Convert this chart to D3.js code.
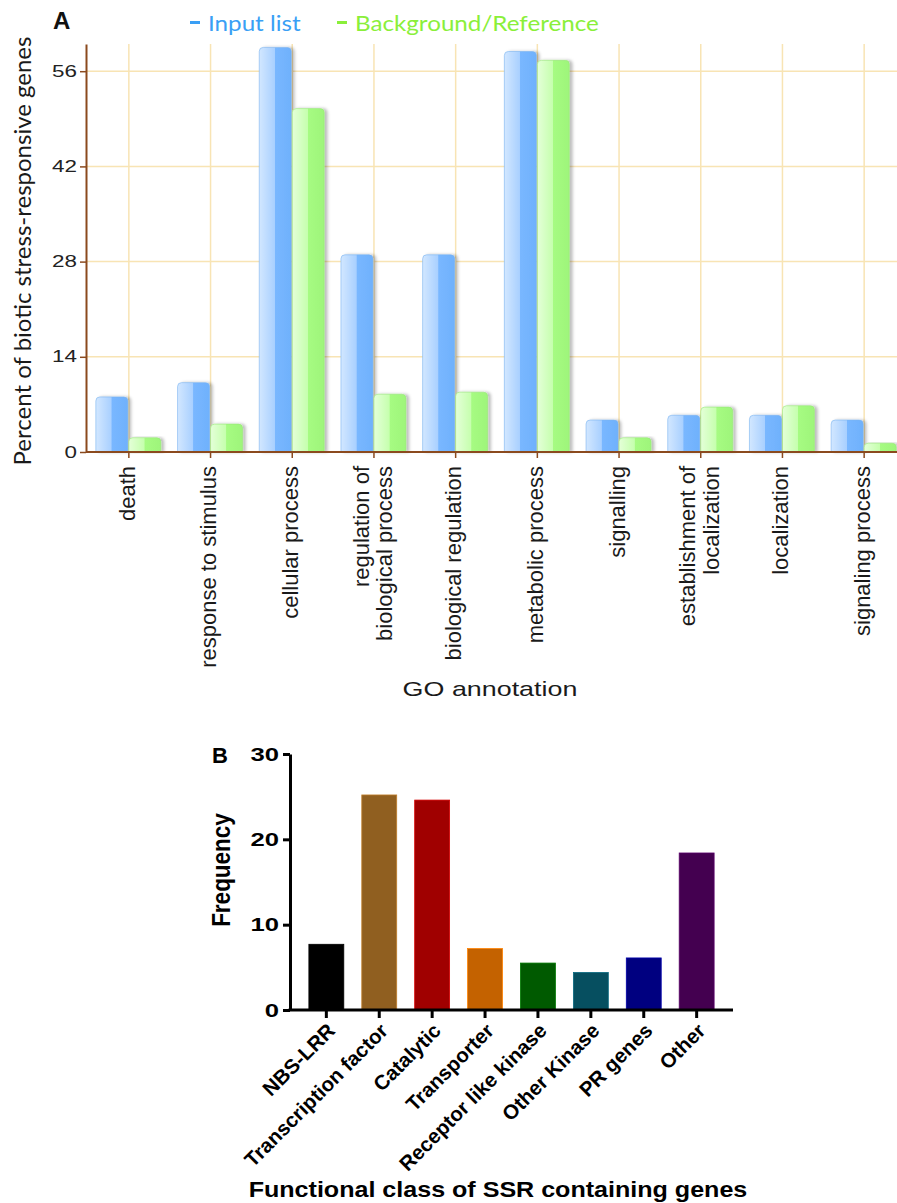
<!DOCTYPE html>
<html>
<head>
<meta charset="utf-8">
<script src="https://cdn.jsdelivr.net/npm/d3@7"></script>
<style>
  body { margin: 0; background: #fff; }
  svg { display: block; }
</style>
</head>
<body>
<svg id="fig" width="897" height="1203"></svg>
<script>
// ---- panel A: GO annotation ----
const goTerms = [
  'death', 'response to stimulus', 'cellular process',
  'regulation of\nbiological process', 'biological regulation',
  'metabolic process', 'signalling', 'establishment of\nlocalization',
  'localization', 'signaling process'
];
const inputList = [8.1, 10.2, 59.5, 29.0, 29.0, 58.9, 4.7, 5.4, 5.4, 4.7];
const backgroundRef = [2.1, 4.1, 50.5, 8.5, 8.8, 57.6, 2.1, 6.6, 6.8, 1.3];
const seriesNames = ['Input list', 'Background/Reference'];
const percentTicks = [0, 14, 28, 42, 56];

// ---- panel B: SSR functional classes ----
const ssrClasses = [
  'NBS-LRR', 'Transcription factor', 'Catalytic', 'Transporter',
  'Receptor like kinase', 'Other Kinase', 'PR genes', 'Other'
];
const ssrFrequency = [7.7, 25.2, 24.6, 7.2, 5.5, 4.4, 6.1, 18.4];
const frequencyTicks = [0, 10, 20, 30];

const svg = d3.select('#fig');
const defs = svg.append('defs');

function topRounded(x, y, w, h, r) {
  r = Math.min(r, h, w / 2);
  return `M${x},${y + h}V${y + r}Q${x},${y} ${x + r},${y}H${x + w - r}Q${x + w},${y} ${x + w},${y + r}V${y + h}Z`;
}

// bar gradients (glossy look of the original)
const grads = {
  'Input list': ['#d2e7ff', '#a9d0ff', '#79b7ff', '#6fb1fc'],
  'Background/Reference': ['#e4ffd8', '#c6ffae', '#a6fb82', '#9ef57a']
};
Object.entries(grads).forEach(([name, c], i) => {
  const g = defs.append('linearGradient').attr('id', 'grad' + i)
    .attr('x1', 0).attr('x2', 1).attr('y1', 0).attr('y2', 0);
  g.append('stop').attr('offset', '0%').attr('stop-color', c[0]);
  g.append('stop').attr('offset', '48%').attr('stop-color', c[1]);
  g.append('stop').attr('offset', '50%').attr('stop-color', c[2]);
  g.append('stop').attr('offset', '100%').attr('stop-color', c[3]);
});
defs.append('filter').attr('id', 'shadow')
  .attr('x', '-20%').attr('y', '-10%').attr('width', '150%').attr('height', '120%')
  .append('feDropShadow')
  .attr('dx', 3).attr('dy', 0).attr('stdDeviation', 1.8)
  .attr('flood-color', '#000').attr('flood-opacity', 0.25);

// ================= Panel A =================
const axisBrown = '#8b4a1e';
const gridColor = '#f8e4b4';

const xA = d3.scaleBand().domain(goTerms).range([88, 905]);
const xSub = d3.scaleBand().domain(seriesNames).range([-33, 33]);
const yA = d3.scaleLinear().domain([0, 60]).range([452, 44]);
const center = t => xA(t) + xA.bandwidth() / 2;

const gA = svg.append('g');

// grid
gA.append('g').selectAll('line').data(percentTicks.filter(d => d > 0)).join('line')
  .attr('x1', 86).attr('x2', 897)
  .attr('y1', d => yA(d)).attr('y2', d => yA(d))
  .attr('stroke', gridColor).attr('stroke-width', 1.5);
gA.append('g').selectAll('line').data(goTerms).join('line')
  .attr('x1', d => center(d)).attr('x2', d => center(d))
  .attr('y1', yA(60)).attr('y2', yA(0))
  .attr('stroke', gridColor).attr('stroke-width', 1.5);

// bars
const barData = goTerms.flatMap((t, i) => [
  {term: t, series: seriesNames[0], value: inputList[i]},
  {term: t, series: seriesNames[1], value: backgroundRef[i]}
]);
gA.append('g').selectAll('path').data(barData).join('path')
  .attr('d', d => {
    const x = center(d.term) + xSub(d.series);
    const y = yA(d.value);
    return topRounded(x, y, xSub.bandwidth() - 1, yA(0) - y, 4);
  })
  .attr('fill', d => `url(#grad${seriesNames.indexOf(d.series)})`)
  .attr('stroke', d => d.series === seriesNames[0] ? '#7ab3f0' : '#98e87a')
  .attr('stroke-width', 0.6)
  .attr('filter', 'url(#shadow)');

// y axis
const yAxisA = gA.append('g').attr('transform', 'translate(86,0)')
  .call(d3.axisLeft(yA).tickValues(percentTicks).tickSize(6).tickSizeOuter(0));
yAxisA.select('.domain').attr('stroke', axisBrown).attr('stroke-width', 2);
yAxisA.selectAll('.tick line').attr('stroke', axisBrown).attr('stroke-width', 1.5);
yAxisA.selectAll('.tick text')
  .attr('x', -9 / 1.4).attr('transform', 'scale(1.4,1)')
  .attr('font-family', '"Liberation Sans", Arial, sans-serif')
  .attr('font-size', 16).attr('fill', '#222');

// x axis
const xAxisA = gA.append('g').attr('transform', `translate(0,${yA(0)})`)
  .call(d3.axisBottom(xA).tickSize(6).tickSizeOuter(0).tickFormat(''));
xAxisA.select('.domain').remove();
xAxisA.selectAll('.tick line').attr('stroke', axisBrown).attr('stroke-width', 1.5);
gA.append('line').attr('x1', 86).attr('x2', 897).attr('y1', yA(0)).attr('y2', yA(0))
  .attr('stroke', axisBrown).attr('stroke-width', 2);

// rotated category labels
const catLabels = gA.append('g').selectAll('text').data(goTerms).join('text')
  .attr('transform', d => `translate(${center(d) - 2},466) rotate(-90)`)
  .attr('text-anchor', 'end')
  .attr('font-family', '"Liberation Sans", Arial, sans-serif')
  .attr('font-size', 22).attr('fill', '#1a1a1a');
catLabels.each(function (d) {
  const lines = d.split('\n');
  const t = d3.select(this);
  lines.forEach((ln, i) => {
    t.append('tspan').attr('x', 0)
      .attr('dy', i === 0 ? `${0.35 - (lines.length - 1) * 0.5}em` : '1.05em')
      .text(ln);
  });
});

// titles
gA.append('text')
  .attr('transform', 'translate(490,696) scale(1.28,1)')
  .attr('text-anchor', 'middle')
  .attr('font-family', '"Liberation Sans", Arial, sans-serif')
  .attr('font-size', 21).attr('fill', '#1a1a1a')
  .text('GO annotation');
gA.append('text')
  .attr('transform', 'translate(31,251) rotate(-90)')
  .attr('text-anchor', 'middle')
  .attr('font-family', 'Lato, "Open Sans", sans-serif')
  .attr('font-size', 24).attr('fill', '#1a1a1a')
  .text('Percent of biotic stress-responsive genes');
gA.append('text').attr('x', 53).attr('y', 29)
  .attr('font-family', '"Liberation Sans", Arial, sans-serif')
  .attr('font-weight', 'bold').attr('font-size', 24).attr('fill', '#111')
  .text('A');

// legend
const legendColors = ['#3a9ff5', '#8aef3a'];
const legendX = [190, 337];
const legend = gA.append('g').selectAll('g').data(seriesNames).join('g')
  .attr('transform', (d, i) => `translate(${legendX[i]},0)`);
legend.append('rect').attr('x', 0).attr('y', 21).attr('width', 10).attr('height', 3)
  .attr('fill', (d, i) => legendColors[i]);
legend.append('text')
  .attr('transform', 'translate(18,31) scale(1.1,1)')
  .attr('font-family', 'Lato, "Open Sans", sans-serif')
  .attr('font-size', 22)
  .attr('fill', (d, i) => legendColors[i])
  .text(d => d);

// ================= Panel B =================
const ssrColor = d3.scaleOrdinal()
  .domain(ssrClasses)
  .range(['#000000', '#905f20', '#a00000', '#c46200', '#005a00', '#064f60', '#000080', '#440050']);

const xB = d3.scaleBand().domain(ssrClasses).range([290, 733])
  .paddingInner(0.34).paddingOuter(0.357);
const yB = d3.scaleLinear().domain([0, 30]).range([1010, 754]);
const gB = svg.append('g');

gB.append('g').selectAll('rect').data(ssrClasses).join('rect')
  .attr('x', d => xB(d))
  .attr('y', (d, i) => yB(ssrFrequency[i]))
  .attr('width', xB.bandwidth())
  .attr('height', (d, i) => yB(0) - yB(ssrFrequency[i]))
  .attr('fill', d => ssrColor(d))
  .attr('stroke', d => d3.color(ssrColor(d)).brighter(0.8))
  .attr('stroke-width', 0.8);

const yAxisB = gB.append('g').attr('transform', 'translate(290,0)')
  .call(d3.axisLeft(yB).tickValues(frequencyTicks).tickSize(7).tickSizeOuter(0));
yAxisB.select('.domain').attr('stroke', '#000').attr('stroke-width', 3);
yAxisB.selectAll('.tick line').attr('stroke', '#000').attr('stroke-width', 3);
yAxisB.selectAll('.tick text')
  .attr('x', -11 / 1.35).attr('transform', 'scale(1.35,1)')
  .attr('font-family', '"Liberation Sans", Arial, sans-serif')
  .attr('font-weight', 'bold').attr('font-size', 19).attr('fill', '#000');

const xAxisB = gB.append('g').attr('transform', `translate(0,${yB(0)})`)
  .call(d3.axisBottom(xB).tickSize(8).tickSizeOuter(0).tickFormat(''));
xAxisB.select('.domain').remove();
xAxisB.selectAll('.tick line').attr('stroke', '#000').attr('stroke-width', 3);
gB.append('line').attr('x1', 288.5).attr('x2', 733).attr('y1', yB(0)).attr('y2', yB(0))
  .attr('stroke', '#000').attr('stroke-width', 3);

gB.append('g').selectAll('text').data(ssrClasses).join('text')
  .attr('transform', d => `translate(${xB(d) + xB.bandwidth() / 2 + 10},1032) rotate(-45)`)
  .attr('text-anchor', 'end')
  .attr('font-family', '"Liberation Sans", Arial, sans-serif')
  .attr('font-weight', 'bold').attr('font-size', 20.5).attr('fill', '#000')
  .text(d => d);

gB.append('text')
  .attr('transform', 'translate(230,870) rotate(-90) scale(1,1.15)')
  .attr('text-anchor', 'middle')
  .attr('font-family', '"Liberation Sans", Arial, sans-serif')
  .attr('font-weight', 'bold').attr('font-size', 22.5).attr('fill', '#000')
  .text('Frequency');
gB.append('text')
  .attr('transform', 'translate(498,1197) scale(1.14,1)')
  .attr('text-anchor', 'middle')
  .attr('font-family', '"Liberation Sans", Arial, sans-serif')
  .attr('font-weight', 'bold').attr('font-size', 22).attr('fill', '#000')
  .text('Functional class of SSR containing genes');
gB.append('text').attr('x', 212).attr('y', 763)
  .attr('font-family', '"Liberation Sans", Arial, sans-serif')
  .attr('font-weight', 'bold').attr('font-size', 22).attr('fill', '#000')
  .text('B');
</script>
</body>
</html>
